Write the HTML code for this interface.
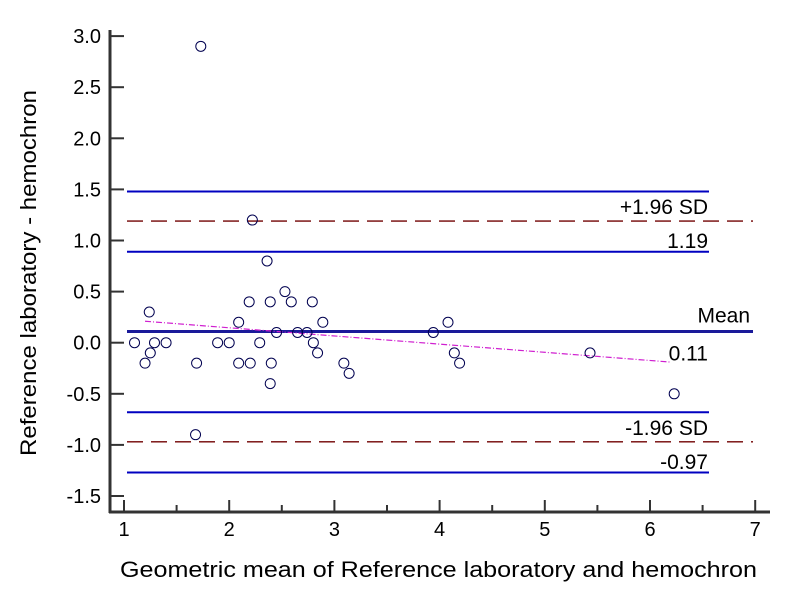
<!DOCTYPE html>
<html><head><meta charset="utf-8"><style>
body{margin:0;background:#fff}
svg text{font-family:"Liberation Sans",Arial,sans-serif;fill:#000}
</style></head><body>
<svg id="chart" width="801" height="601" xmlns="http://www.w3.org/2000/svg"></svg>
<script>
const xs=[2.22,2.36,2.53,2.19,2.39,2.59,2.79,1.24,2.09,2.89,2.45,2.65,2.74,1.10,1.29,1.40,1.89,2.0,2.29,2.80,1.25,2.84,1.20,1.69,2.09,2.20,2.40,3.09,3.14,2.39,1.68,1.73,3.94,4.08,4.14,4.19,5.43,6.23];
const ys=[1.2,0.8,0.5,0.4,0.4,0.4,0.4,0.3,0.2,0.2,0.1,0.1,0.1,0,0,0,0,0,0,0,-0.1,-0.1,-0.2,-0.2,-0.2,-0.2,-0.2,-0.2,-0.3,-0.4,-0.9,2.9,0.1,0.2,-0.1,-0.2,-0.1,-0.5];
const xTicks=[1,2,3,4,5,6,7];
const yTicks=[3.0,2.5,2.0,1.5,1.0,0.5,0.0,-0.5,-1.0,-1.5];
const meanVal=0.11, upperLoA=1.19, lowerLoA=-0.97;
const upperCI=[0.89,1.48], meanCI=[0.11,0.11], lowerCI=[-1.27,-0.68];
const regX=[1.2,6.2], regY=[0.21,-0.19];
const NS="http://www.w3.org/2000/svg";
const svg=document.getElementById('chart');
const X=v=>124+(v-1)*105.2;
const Y=v=>342.7-v*102.2;
function mk(t,a,p){const e=document.createElementNS(NS,t);for(const k in a)e.setAttribute(k,a[k]);(p||svg).appendChild(e);return e;}
const x0=127,x1=709;
[...upperCI,...lowerCI].forEach(v=>{
 const l=mk('line',{x1:x0,x2:x1,y1:Y(v),y2:Y(v),stroke:'#0000c0','stroke-width':2});
 
 
});
const ml=mk('line',{x1:x0,x2:753,y1:Y(meanVal),y2:Y(meanVal),stroke:'#1a1a9a','stroke-width':3});


[upperLoA,lowerLoA].forEach(v=>{
 const l=mk('line',{x1:x0,x2:753,y1:Y(v),y2:Y(v),stroke:'#700000','stroke-width':1.3,'stroke-dasharray':'16,8'});
 
 
});
const rl=mk('line',{x1:X(regX[0]),x2:X(regX[1]),y1:Y(regY[0]),y2:Y(regY[1]),stroke:'#d020d0','stroke-width':1.2,'stroke-dasharray':'6,2,1,2'});


xs.forEach((v,i)=>{
 const c=mk('circle',{cx:X(v),cy:Y(ys[i]),r:5,fill:'none',stroke:'#000050','stroke-width':1});
 
 
});
const ya=mk('line',{x1:110,x2:110,y1:30,y2:513,stroke:'#333','stroke-width':3});


const xa=mk('line',{x1:109,x2:770,y1:512,y2:512,stroke:'#333','stroke-width':3});


yTicks.forEach(v=>{
 mk('line',{x1:110,x2:124,y1:Y(v),y2:Y(v),stroke:'#333','stroke-width':2});
 const t=mk('text',{x:101,y:Y(v)+7,'text-anchor':'end','font-size':20});
 t.textContent=v.toFixed(1);
 
 
});
xTicks.forEach(v=>{
 mk('line',{x1:X(v),x2:X(v),y1:512,y2:500,stroke:'#333','stroke-width':2});
 if(v<7) mk('line',{x1:X(v+0.5),x2:X(v+0.5),y1:512,y2:505,stroke:'#333','stroke-width':2});
 const t=mk('text',{x:X(v),y:536,'text-anchor':'middle','font-size':20});
 t.textContent=v;
 
 
});
function lab(txt,x,y,name){const t=mk('text',{x:x,y:y,'text-anchor':'end','font-size':21});t.textContent=txt;
 
 }
lab('+1.96 SD',708,Y(upperLoA)-7,'upper-loa-label');
lab(upperLoA.toFixed(2),708,Y(upperLoA)+27,'upper-loa-value');
lab('Mean',750,Y(meanVal)-9,'mean-label');
lab(meanVal.toFixed(2),708,Y(meanVal)+29,'mean-value');
lab('-1.96 SD',708,Y(lowerLoA)-7,'lower-loa-label');
lab(lowerLoA.toFixed(2),708,Y(lowerLoA)+27,'lower-loa-value');
const xt=mk('text',{x:120,y:577,'font-size':22,textLength:637,lengthAdjust:'spacingAndGlyphs'});
xt.textContent='Geometric mean of Reference laboratory and hemochron';


const yt=mk('text',{x:0,y:0,'font-size':22,textLength:366,lengthAdjust:'spacingAndGlyphs',transform:'translate(36,456) rotate(-90)'});
yt.textContent='Reference laboratory - hemochron';


</script>
</body></html>
